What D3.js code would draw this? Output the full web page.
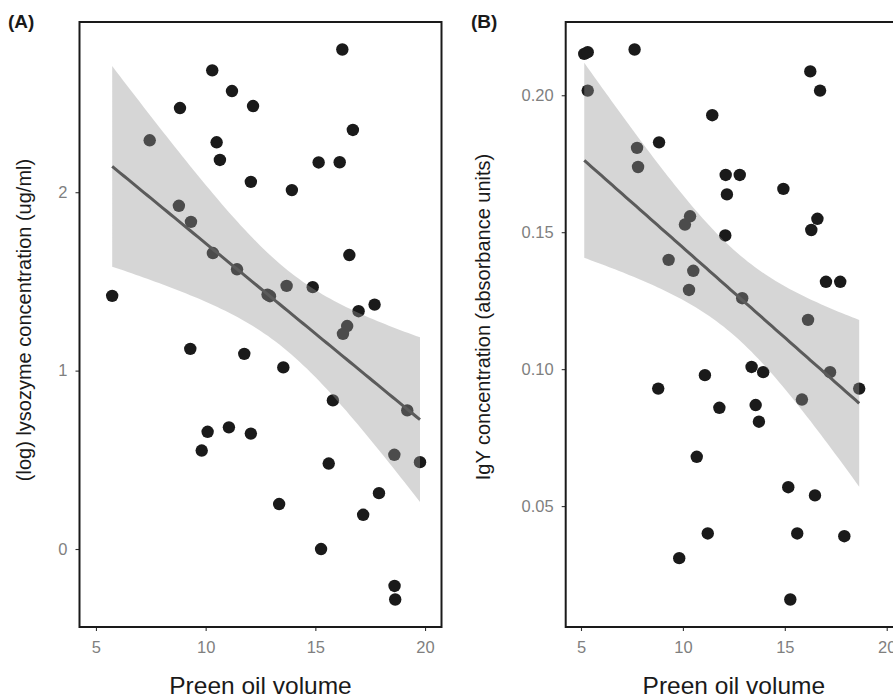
<!DOCTYPE html>
<html><head><meta charset="utf-8">
<script src="https://cdn.jsdelivr.net/npm/d3@7"></script>
<style>body{margin:0;background:#fff}svg{display:block}</style>
</head><body>
<script>
// ---------- data ----------
const lysoX = [16.23,10.30,11.20,8.83,12.16,7.45,16.71,10.50,10.65,15.15,16.11,12.06,13.93,8.78,9.33,10.33,11.43,12.82,12.93,13.69,14.88,5.74,16.55,17.70,16.97,16.45,16.26,9.30,11.76,13.54,15.80,19.19,10.09,11.06,12.06,9.82,18.60,19.77,15.61,17.90,13.35,17.18,15.26,18.61,18.64];
const lysoY = [2.80,2.683,2.567,2.472,2.483,2.291,2.349,2.280,2.181,2.167,2.168,2.058,2.012,1.924,1.834,1.659,1.568,1.426,1.417,1.475,1.468,1.419,1.648,1.370,1.333,1.25,1.206,1.122,1.094,1.018,0.833,0.777,0.657,0.682,0.647,0.552,0.528,0.487,0.479,0.313,0.252,0.192,0.000,-0.207,-0.283];
const igyX = [5.16,5.33,7.63,5.33,16.25,16.73,11.44,8.83,7.75,7.80,12.10,12.79,12.16,14.93,16.60,16.30,10.35,10.10,12.08,9.30,10.51,10.30,12.91,17.02,17.72,16.14,13.37,13.94,11.08,17.22,8.79,18.65,15.84,11.79,13.57,13.73,10.68,15.17,16.48,11.22,15.61,17.92,9.82,15.27];
const igyY = [0.2151,0.2157,0.2167,0.2017,0.2087,0.2017,0.1927,0.1828,0.1808,0.1738,0.1709,0.1709,0.1638,0.1658,0.1549,0.1508,0.1558,0.1528,0.1488,0.1399,0.1359,0.1289,0.1259,0.1319,0.1319,0.1180,0.1008,0.0989,0.0978,0.0989,0.0929,0.0929,0.0889,0.0859,0.0869,0.0808,0.0680,0.0569,0.0539,0.0400,0.0400,0.0390,0.0310,0.0159];
const xTicks = [5,10,15,20];
const lysoTicks = [0,1,2];
const igyTicks = [0.05,0.10,0.15,0.20];
const panelLabels = ["(A)","(B)"];
const xTitle = "Preen oil volume";
const lysoTitle = "(log) lysozyme concentration (ug/ml)";
const igyTitle = "IgY concentration (absorbance units)";

// ---------- layout ----------
const W = 893, H = 700;
const svg = d3.select("body").append("svg").attr("width", W).attr("height", H);
const FONT = "'Liberation Sans', Arial, Helvetica, sans-serif";

function lmFit(xs, ys) {
  const n = xs.length;
  const mx = d3.mean(xs), my = d3.mean(ys);
  let sxx = 0, sxy = 0;
  for (let i = 0; i < n; i++) { sxx += (xs[i]-mx)**2; sxy += (xs[i]-mx)*(ys[i]-my); }
  const b = sxy / sxx, a = my - b*mx;
  let sse = 0;
  for (let i = 0; i < n; i++) sse += (ys[i] - a - b*xs[i])**2;
  const s = Math.sqrt(sse/(n-2));
  const df = n-2, z = 1.959964;
  const t = z + (z**3+z)/(4*df) + (5*z**5+16*z**3+3*z)/(96*df*df);
  const [lo, hi] = d3.extent(xs);
  const grid = d3.range(80).map(i => lo + (hi-lo)*i/79);
  return grid.map(x => {
    const fit = a + b*x;
    const se = s*Math.sqrt(1/n + (x-mx)**2/sxx);
    return {x, fit, lo: fit - t*se, hi: fit + t*se};
  });
}

function panel(cfg) {
  const {left, right, top, bottom, xs, ys, yTicks, yFmt, yTitle, yTitleX, yTitleY, label, labelX} = cfg;
  const x = d3.scaleLinear().domain([4.25, 20.75]).range([left, right]);
  const [ymin, ymax] = d3.extent(ys);
  const pad = (ymax - ymin) * 0.05;
  const y = d3.scaleLinear().domain([ymin - pad, ymax + pad]).range([bottom, top]);
  const g = svg.append("g");
  const clipId = "clip" + label.replace(/\W/g, "");
  g.append("clipPath").attr("id", clipId).append("rect")
    .attr("x", left).attr("y", top).attr("width", right-left).attr("height", bottom-top);
  const inner = g.append("g").attr("clip-path", `url(#${clipId})`);
  // points
  inner.selectAll("circle").data(xs.map((v,i)=>[v, ys[i]])).join("circle")
    .attr("cx", d => x(d[0])).attr("cy", d => y(d[1])).attr("r", 6.2).attr("fill", "#1a1a1a");
  // smooth
  const sm = lmFit(xs, ys);
  inner.append("path").datum(sm)
    .attr("d", d3.area().x(d => x(d.x)).y0(d => y(d.lo)).y1(d => y(d.hi)))
    .attr("fill", "#999999").attr("fill-opacity", 0.4);
  inner.append("path").datum(sm)
    .attr("d", d3.line().x(d => x(d.x)).y(d => y(d.fit)))
    .attr("fill", "none").attr("stroke", "#5b5b5b").attr("stroke-width", 3);
  // axes
  const xa = g.append("g").attr("transform", `translate(0,${bottom})`)
    .call(d3.axisBottom(x).tickValues(xTicks).tickSize(4).tickPadding(10).tickFormat(d3.format("d")));
  const ya = g.append("g").attr("transform", `translate(${left},0)`)
    .call(d3.axisLeft(y).tickValues(yTicks).tickSize(4).tickPadding(8).tickFormat(yFmt));
  [xa, ya].forEach(a => {
    a.select(".domain").remove();
    a.selectAll(".tick line").attr("stroke", "#333").attr("stroke-width", 1.1);
    a.selectAll(".tick text").attr("fill", "#7f7f7f").attr("font-size", 16.5).attr("font-family", FONT);
  });
  // frame
  g.append("rect").attr("x", left).attr("y", top).attr("width", right-left).attr("height", bottom-top)
    .attr("fill", "none").attr("stroke", "#1a1a1a").attr("stroke-width", 2);
  // titles
  g.append("text").attr("x", (left+right)/2).attr("y", 694).attr("text-anchor", "middle")
    .attr("font-family", FONT).attr("font-size", 24.5).attr("fill", "#1a1a1a").text(xTitle);
  g.append("text").attr("transform", `translate(${yTitleX},${yTitleY}) rotate(-90)`)
    .attr("text-anchor", "middle").attr("font-family", FONT).attr("font-size", 20)
    .attr("fill", "#1a1a1a").text(yTitle);
  g.append("text").attr("x", labelX).attr("y", 28).attr("font-family", FONT)
    .attr("font-weight", "bold").attr("font-size", 19).attr("fill", "#1a1a1a").text(label);
}

panel({left: 79.5, right: 441.5, top: 22, bottom: 627, xs: lysoX, ys: lysoY,
  yTicks: lysoTicks, yFmt: d3.format("d"), yTitle: lysoTitle, yTitleX: 31, yTitleY: 320,
  label: panelLabels[0], labelX: 8});
panel({left: 565.7, right: 902, top: 22, bottom: 627, xs: igyX, ys: igyY,
  yTicks: igyTicks, yFmt: d3.format(".2f"), yTitle: igyTitle, yTitleX: 490, yTitleY: 317,
  label: panelLabels[1], labelX: 471});
</script>
</body></html>
